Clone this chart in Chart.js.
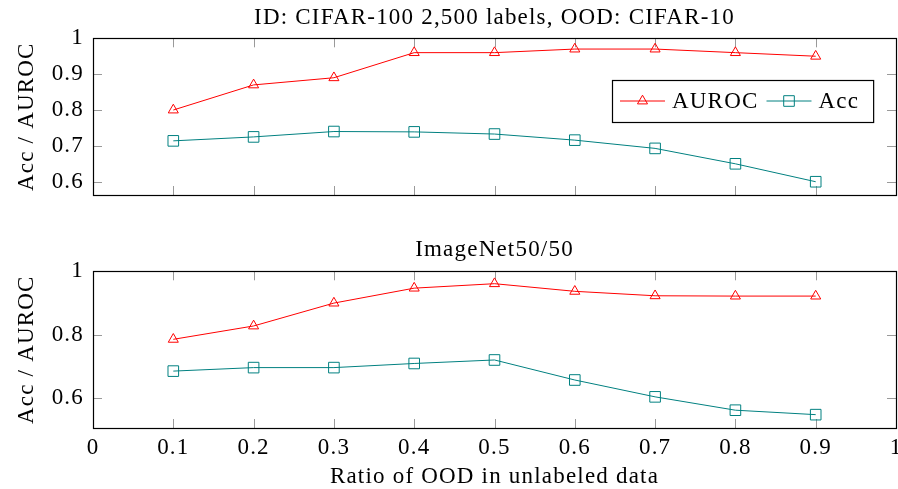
<!DOCTYPE html>
<html>
<head>
<meta charset="utf-8">
<script src="https://cdn.jsdelivr.net/npm/chart.js@4.4.1/dist/chart.umd.min.js"></script>
<style>
  html, body { margin: 0; padding: 0; background: #fff; }
  body { width: 898px; height: 489px; position: relative; overflow: hidden; }
  canvas { position: absolute; left: 0; }
  #top { top: 0; }
  #bottom { top: 230px; }
</style>
</head>
<body>
<canvas id="top" width="898" height="200"></canvas>
<canvas id="bottom" width="898" height="259"></canvas>
<script>
// ratio of OOD samples in the unlabeled set
const ratios = [0.1, 0.2, 0.3, 0.4, 0.5, 0.6, 0.7, 0.8, 0.9];

// CIFAR-100 (2,500 labels) vs CIFAR-10
const cifarAuroc = [0.800, 0.870, 0.890, 0.960, 0.960, 0.970, 0.970, 0.960, 0.950];
const cifarAcc   = [0.714, 0.725, 0.740, 0.739, 0.733, 0.716, 0.693, 0.650, 0.600];

// ImageNet50/50
const imagenetAuroc = [0.786, 0.828, 0.900, 0.947, 0.961, 0.937, 0.923, 0.922, 0.922];
const imagenetAcc   = [0.686, 0.697, 0.697, 0.710, 0.721, 0.658, 0.605, 0.563, 0.549];

const xTicks = [0, 0.1, 0.2, 0.3, 0.4, 0.5, 0.6, 0.7, 0.8, 0.9, 1];
const yTicksTop = [0.6, 0.7, 0.8, 0.9, 1];
const yTicksBottom = [0.6, 0.8, 1];

const FONT = "'Liberation Serif', 'Times New Roman', serif";
const FSIZE = 23;
const RED = '#ff0000';
const TEAL = '#008080';
const TICK_LEN = 9;

function points(ys) {
    return ratios.map(function (r, i) { return { x: r, y: ys[i] }; });
}

function fmt(v) {
    return String(Number(v.toFixed(2)));
}

function series(label, ys, color, style, radius) {
    return {
        label: label,
        data: points(ys),
        borderColor: color,
        borderWidth: 1,
        pointStyle: style,
        pointRadius: radius,
        pointBorderColor: color,
        pointBackgroundColor: 'rgba(0,0,0,0)',
        pointBorderWidth: 1,
        tension: 0
    };
}

// Computer Modern runs wider than Times, so loosen the letters a bit
const looseText = {
    id: 'looseText',
    beforeUpdate: function (chart) { chart.ctx.letterSpacing = '1.2px'; },
    beforeDraw: function (chart) { chart.ctx.letterSpacing = '1.2px'; }
};

// pgfplots-like frame with inner tick marks
const pgfFrame = {
    id: 'pgfFrame',
    beforeDatasetsDraw: function (chart) {
        var ctx = chart.ctx, a = chart.chartArea, x = chart.scales.x, y = chart.scales.y;
        ctx.save();
        ctx.strokeStyle = '#9a9a9a';
        ctx.lineWidth = 1;
        ctx.beginPath();
        x.ticks.forEach(function (t) {
            var px = Math.round(x.getPixelForValue(t.value)) + 0.5;
            ctx.moveTo(px, a.top); ctx.lineTo(px, a.top + TICK_LEN);
            ctx.moveTo(px, a.bottom); ctx.lineTo(px, a.bottom - TICK_LEN);
        });
        y.ticks.forEach(function (t) {
            var py = Math.round(y.getPixelForValue(t.value)) + 0.5;
            ctx.moveTo(a.left, py); ctx.lineTo(a.left + TICK_LEN, py);
            ctx.moveTo(a.right, py); ctx.lineTo(a.right - TICK_LEN, py);
        });
        ctx.stroke();
        ctx.restore();
    },
    afterDraw: function (chart) {
        var ctx = chart.ctx, a = chart.chartArea;
        ctx.save();
        ctx.strokeStyle = '#000';
        ctx.lineWidth = 1.2;
        ctx.strokeRect(Math.round(a.left) + 0.5, Math.round(a.top) + 0.5,
            Math.round(a.right - a.left), Math.round(a.bottom - a.top));
        ctx.restore();
    }
};

// legend with line + marker samples, drawn inside the top plot
const lineLegend = {
    id: 'lineLegend',
    afterDraw: function (chart) {
        var ctx = chart.ctx;
        var left = 612, top = 80, height = 42;
        var cy = top + height / 2;
        ctx.save();
        ctx.font = FSIZE + 'px ' + FONT;
        ctx.textBaseline = 'middle';
        var x = left + 8;
        var items = chart.data.datasets.map(function (ds) {
            var item = { ds: ds, x: x, w: ctx.measureText(ds.label).width };
            x += 45 + 7 + item.w + 8;
            return item;
        });
        var right = x + 6;
        ctx.fillStyle = '#fff';
        ctx.fillRect(left, top, right - left, height);
        ctx.strokeStyle = '#000';
        ctx.lineWidth = 1.2;
        ctx.strokeRect(left + 0.5, top + 0.5, right - left, height);
        items.forEach(function (it) {
            ctx.strokeStyle = it.ds.borderColor;
            ctx.lineWidth = 1;
            ctx.beginPath();
            ctx.moveTo(it.x, cy); ctx.lineTo(it.x + 45, cy);
            ctx.stroke();
            ctx.fillStyle = 'rgba(0,0,0,0)';
            Chart.helpers.drawPoint(ctx, {
                pointStyle: it.ds.pointStyle,
                radius: it.ds.pointRadius,
                rotation: 0,
                borderWidth: 1
            }, it.x + 22.5, cy);
            ctx.fillStyle = '#000';
            ctx.fillText(it.ds.label, it.x + 52, cy + 1);
        });
        ctx.restore();
    }
};

function makeChart(id, title, auroc, acc, yMin, yTicks, opts) {
    return new Chart(document.getElementById(id), {
        type: 'line',
        data: {
            datasets: [
                series('AUROC', auroc, RED, 'triangle', 5.8),
                series('Acc', acc, TEAL, 'rect', 7.5)
            ]
        },
        plugins: [looseText, pgfFrame].concat(opts.plugins || []),
        options: {
            responsive: false,
            animation: false,
            events: [],
            layout: { padding: { left: 0, right: 2, top: 0, bottom: 0 }, autoPadding: false },
            plugins: {
                legend: { display: false },
                tooltip: { enabled: false },
                title: {
                    display: true,
                    fullSize: false,
                    text: title,
                    color: '#000',
                    font: { family: FONT, size: FSIZE, weight: 'normal' },
                    padding: opts.titlePadding
                }
            },
            scales: {
                x: {
                    type: 'linear',
                    min: 0,
                    max: 1,
                    afterBuildTicks: function (s) { s.ticks = xTicks.map(function (v) { return { value: v }; }); },
                    grid: { display: false, drawTicks: false },
                    border: { display: false },
                    ticks: {
                        display: opts.xLabels,
                        color: '#000',
                        padding: 6,
                        maxRotation: 0,
                        autoSkip: false,
                        font: { family: FONT, size: FSIZE },
                        callback: function (v) { return fmt(v); }
                    },
                    title: {
                        display: opts.xLabels,
                        text: 'Ratio of OOD in unlabeled data',
                        color: '#000',
                        font: { family: FONT, size: FSIZE },
                        padding: { top: 0, bottom: -2 }
                    },
                    afterFit: function (s) {
                        s.height = opts.xHeight;
                        s.paddingLeft = 0;
                        s.paddingRight = 0;
                    }
                },
                y: {
                    min: yMin,
                    max: 1,
                    afterBuildTicks: function (s) { s.ticks = yTicks.map(function (v) { return { value: v }; }); },
                    grid: { display: false, drawTicks: false },
                    border: { display: false },
                    ticks: {
                        color: '#000',
                        padding: 9,
                        font: { family: FONT, size: FSIZE },
                        callback: function (v) { return fmt(v); }
                    },
                    title: {
                        display: true,
                        text: 'Acc / AUROC',
                        color: '#000',
                        font: { family: FONT, size: FSIZE },
                        padding: { top: 13, bottom: 0 }
                    },
                    afterFit: function (s) {
                        s.width = 93;
                        s.paddingTop = 0;
                        s.paddingBottom = 0;
                    }
                }
            }
        }
    });
}

makeChart('top', 'ID: CIFAR-100 2,500 labels, OOD: CIFAR-10', cifarAuroc, cifarAcc, 0.563, yTicksTop, {
    titlePadding: { top: 4.2, bottom: 6.5 },
    xLabels: false,
    xHeight: 5,
    plugins: [lineLegend]
});

makeChart('bottom', 'ImageNet50/50', imagenetAuroc, imagenetAcc, 0.507, yTicksBottom, {
    titlePadding: { top: 6.2, bottom: 7.5 },
    xLabels: true,
    xHeight: 61
});
</script>
</body>
</html>
